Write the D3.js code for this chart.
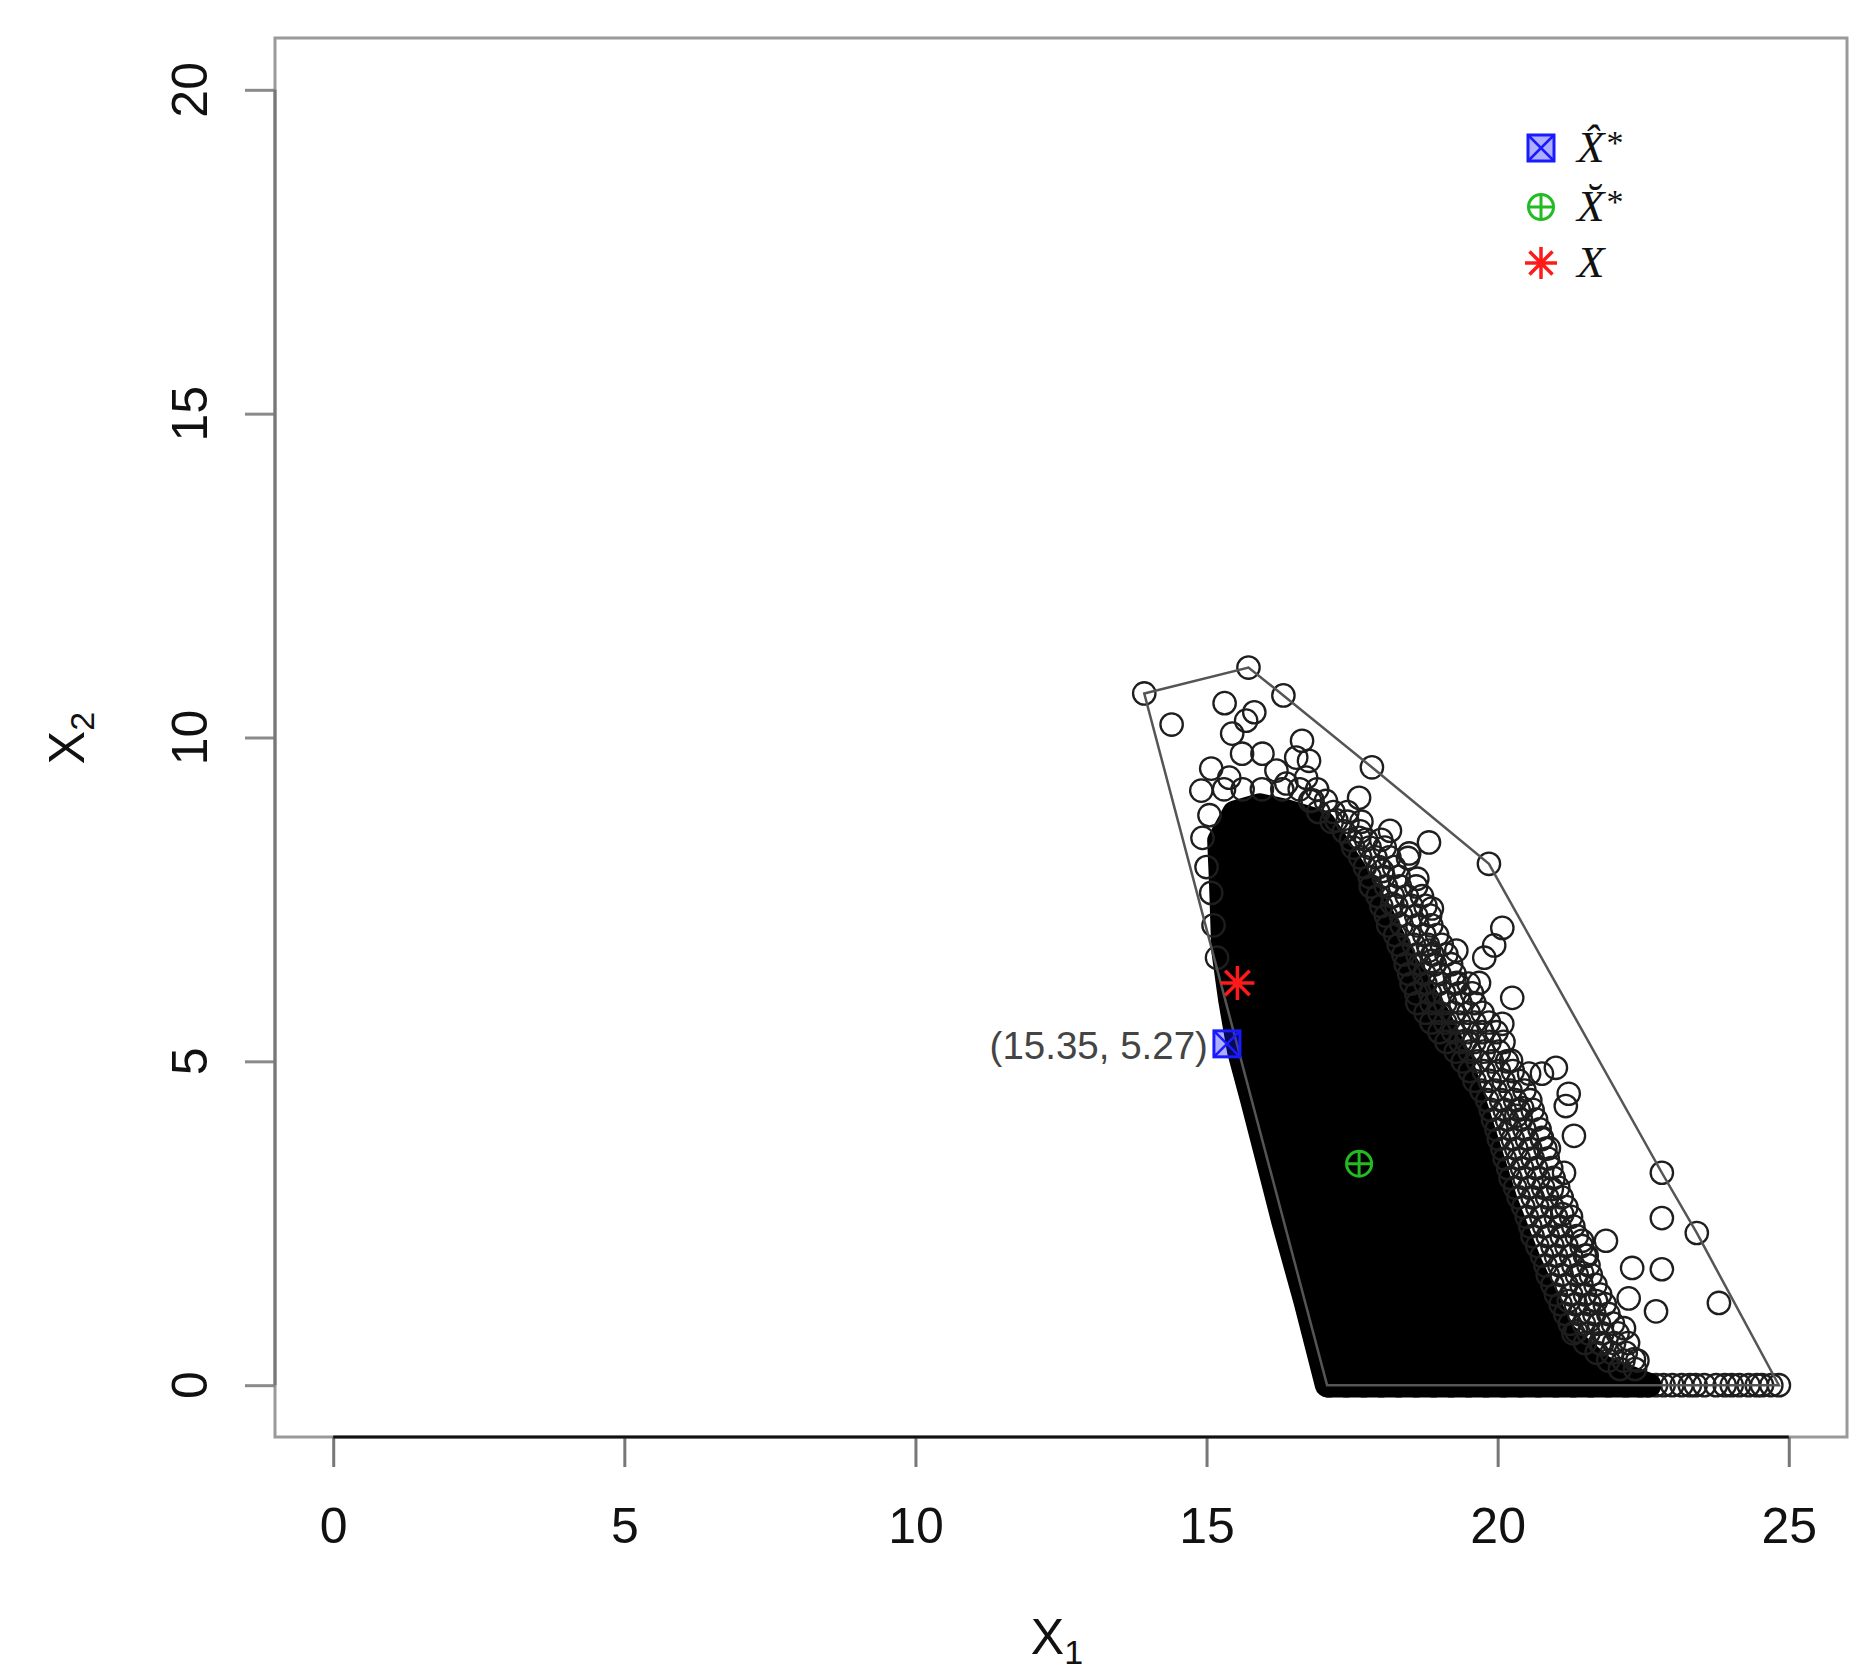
<!DOCTYPE html>
<html><head><meta charset="utf-8">
<script src="https://cdn.jsdelivr.net/npm/d3@7"></script>
<style>body{margin:0;background:#fff} svg{display:block}</style>
</head><body>
<svg id="chart" width="1872" height="1680"></svg>
<script>
// ---------- data ----------
const xTicks = [0, 5, 10, 15, 20, 25];
const yTicks = [0, 5, 10, 15, 20];
const xLabel = "X", xSub = "1";
const yLabel = "X", ySub = "2";

// convex hull of the sample
const hull = [[13.93,10.68],[15.72,11.08],[16.32,10.65],[17.84,9.54],[19.85,8.05],[22.82,3.28],[23.42,2.35],[24.83,0],[17.07,0]];

// outline of the saturated (solid black) part of the cloud, point centres
const denseCore = [[15.22,8.41],[15.48,8.84],[15.91,8.95],[16.33,8.87],[17.0,8.69],[17.55,7.94],[18.0,7.28],[18.4,6.55],[18.96,5.73],[19.36,5.01],[19.65,4.23],[20.14,2.84],[20.54,1.92],[21.1,0.83],[21.8,0.28],[22.6,0],[17.07,0],[16.70,1.30],[16.32,2.53],[16.01,3.62],[15.79,4.39],[15.56,5.16],[15.41,5.94],[15.29,6.71],[15.25,7.79]];

// heavily overlapping points along the edge of the cloud: [X2, [X1 values]]
const fringeRows = [
 [9.2,[15.3,15.62,15.95,16.3,16.6,16.9]],
 [9.02,[16.78,17.05]],
 [8.85,[16.92,17.18,17.42]],
 [8.7,[17.15,17.42,17.66]],
 [8.55,[17.36,17.64]],
 [8.42,[17.48,17.74,18.0]],
 [8.3,[17.52,17.8,18.06]],
 [8.15,[17.64,17.9,18.14]],
 [8.0,[17.72,17.96,18.22]],
 [7.85,[17.8,18.04,18.3]],
 [7.7,[17.82,18.08,18.32,18.6]],
 [7.55,[17.94,18.2,18.44,18.7]],
 [7.4,[18.0,18.26,18.52,18.76]],
 [7.25,[18.08,18.34,18.6,18.84]],
 [7.1,[18.12,18.35,18.62,18.86]],
 [6.95,[18.24,18.48,18.74,18.96]],
 [6.8,[18.3,18.56,18.8,19.04]],
 [6.65,[18.38,18.62,18.88,19.12]],
 [6.5,[18.42,18.66,18.92,19.2]],
 [6.35,[18.48,18.74,19.0,19.26]],
 [6.2,[18.52,18.76,19.0,19.26,19.5]],
 [6.05,[18.6,18.84,19.08,19.34,19.56]],
 [5.9,[18.62,18.86,19.1,19.36,19.6]],
 [5.75,[18.76,19.0,19.24,19.5,19.74]],
 [5.6,[18.86,19.1,19.34,19.6,19.85]],
 [5.45,[19.0,19.24,19.48,19.74,19.98]],
 [5.3,[19.12,19.36,19.6,19.86,20.1]],
 [5.15,[19.28,19.52,19.76,20.02]],
 [5.0,[19.4,19.66,19.9,20.16]],
 [4.85,[19.52,19.76,20.02,20.26]],
 [4.7,[19.6,19.86,20.1,20.36]],
 [4.55,[19.72,19.96,20.22,20.46]],
 [4.4,[19.82,20.06,20.3,20.56]],
 [4.25,[19.88,20.12,20.36,20.6]],
 [4.1,[19.92,20.16,20.4,20.66]],
 [3.95,[19.98,20.22,20.46,20.72]],
 [3.8,[20.02,20.26,20.5,20.76]],
 [3.65,[20.08,20.32,20.56,20.82]],
 [3.5,[20.12,20.36,20.6,20.86]],
 [3.35,[20.18,20.42,20.66,20.92]],
 [3.2,[20.22,20.46,20.7,20.96]],
 [3.05,[20.3,20.54,20.78,21.04]],
 [2.9,[20.36,20.6,20.85,21.1]],
 [2.75,[20.44,20.68,20.94,21.18]],
 [2.6,[20.5,20.75,21.0,21.26]],
 [2.45,[20.56,20.8,21.06,21.3]],
 [2.3,[20.6,20.86,21.1,21.36]],
 [2.15,[20.68,20.94,21.18,21.44]],
 [2.0,[20.76,21.0,21.26,21.5]],
 [1.85,[20.82,21.06,21.3,21.56]],
 [1.7,[20.86,21.1,21.36,21.6]],
 [1.55,[20.94,21.18,21.44,21.68]],
 [1.4,[21.0,21.26,21.5,21.76]],
 [1.25,[21.08,21.34,21.58,21.84]],
 [1.1,[21.16,21.4,21.66,21.9]],
 [0.95,[21.24,21.48,21.74,21.98]],
 [0.8,[21.3,21.56,21.8,22.06]],
 [0.65,[21.5,21.76,22.0,22.24]],
 [0.5,[21.7,21.96,22.2]],
 [0.38,[21.9,22.16,22.4]],
 [0.25,[22.1,22.36]],
 [8.8,[15.05]],[8.0,[15.0]],[7.6,[15.08]],[7.1,[15.12]],[6.6,[15.18]]
];

// clearly separated points
const sparsePoints = [
 [13.93,10.68],[15.72,11.08],[16.32,10.65],[17.84,9.54],[19.85,8.05],[22.82,3.28],[23.42,2.35],
 [14.40,10.20],[15.31,10.53],[15.82,10.39],[15.68,10.26],[15.44,10.06],[15.61,9.75],[15.96,9.75],
 [16.64,9.95],[16.54,9.69],[16.76,9.64],[15.08,9.52],[14.91,9.18],[15.39,9.38],[16.20,9.49],
 [16.71,9.38],[17.62,9.07],[16.37,9.29],[16.82,9.03],[14.93,8.45],[17.62,8.45],[17.23,8.72],
 [18.82,8.38],[18.48,8.21],[18.62,7.82],[18.02,7.94],[18.15,8.56],[18.46,8.14],
 [18.19,7.43],[18.87,7.36],[20.08,7.06],[19.29,6.71],[19.77,6.60],[19.94,6.79],[18.87,6.55],
 [19.30,6.21],[19.68,6.21],[20.25,5.98],[20.08,5.58],[19.46,5.32],[20.23,5.01],[20.54,4.81],
 [21.00,4.90],[20.76,4.81],[21.22,4.50],[20.42,4.28],[18.82,6.71],
 [21.17,4.31],[20.32,4.16],[20.76,3.82],[21.31,3.85],[20.88,3.66],[21.14,3.28],[20.93,3.03],
 [22.82,2.58],[21.11,2.64],[21.45,2.23],[21.86,2.23],[22.31,1.81],[22.82,1.79],[21.45,1.73],
 [23.80,1.27],[21.69,1.30],[22.25,1.34],[22.72,1.14],[22.17,0.88],[21.79,0.63],[22.34,0.40],
 [21.57,0.99],[21.22,1.30],[21.35,0.83],[21.53,2.0]
];

// points lying on X2 = 0
const baselineX = [17.1,17.4,17.7,18.0,18.3,18.6,18.9,19.2,19.5,19.8,20.1,20.4,20.7,21.0,21.3,21.6,21.9,22.2,
 22.45,22.6,22.72,22.85,23.0,23.16,23.3,23.4,23.55,23.75,23.9,24.02,24.15,24.31,24.45,24.54,24.7,24.83];

const xHatStar = [15.35, 5.27];
const xBreveStar = [17.62, 3.42];
const xTrue = [15.53, 6.21];
const annotation = "(15.35, 5.27)";
const legendNames = ["X\u0302", "X\u0306", "X"];
const legendStars = ["*", "*", ""];

// ---------- drawing ----------
const svg = d3.select("#chart");
const L = 275, R = 1847, T = 38, B = 1437;
const x = d3.scaleLinear().domain([-1, 26]).range([L, R]);
const y = d3.scaleLinear().domain([-0.8, 20.8]).range([B, T]);
const sans = "'Liberation Sans', Arial, Helvetica, sans-serif";
const serif = "'Liberation Serif', 'Times New Roman', serif";

const COL_BLUE = "#1a1aff", COL_GREEN = "#22bb22", COL_RED = "#ff1a1a";
const PR = 11.2;

// box
svg.append("rect").attr("x", L).attr("y", T).attr("width", R - L).attr("height", B - T)
  .attr("fill", "none").attr("stroke", "#9a9a9a").attr("stroke-width", 3);

// x axis
const gx = svg.append("g").attr("transform", `translate(0,${B})`)
  .call(d3.axisBottom(x).tickValues(xTicks).tickSize(30).tickSizeOuter(0).tickPadding(40).tickFormat(d3.format("d")));
gx.select(".domain").remove();
gx.selectAll(".tick line").attr("stroke", "#777").attr("stroke-width", 3);
gx.selectAll(".tick text").attr("font-family", sans).attr("font-size", 50).attr("fill", "#111");
gx.append("line").attr("x1", x(xTicks[0])).attr("x2", x(xTicks[xTicks.length-1]))
  .attr("y1", 0).attr("y2", 0).attr("stroke", "#111").attr("stroke-width", 3);

// y axis
const gy = svg.append("g").attr("transform", `translate(${L},0)`)
  .call(d3.axisLeft(y).tickValues(yTicks).tickSize(30).tickSizeOuter(0).tickFormat(""));
gy.select(".domain").remove();
gy.selectAll(".tick line").attr("stroke", "#8a8a8a").attr("stroke-width", 3);
gy.append("line").attr("x1", 0).attr("x2", 0).attr("y1", y(yTicks[0])).attr("y2", y(yTicks[yTicks.length-1]))
  .attr("stroke", "#777").attr("stroke-width", 3);
svg.append("g").selectAll("text").data(yTicks).join("text")
  .attr("transform", d => `translate(207,${y(d)}) rotate(-90)`)
  .attr("text-anchor", "middle").attr("font-family", sans).attr("font-size", 50).attr("fill", "#111")
  .text(d => d);

// axis titles
const xt = svg.append("text").attr("x", 1057).attr("y", 1654).attr("text-anchor", "middle")
  .attr("font-family", sans).attr("font-size", 50).attr("fill", "#111");
xt.append("tspan").text(xLabel);
xt.append("tspan").attr("font-size", 34).attr("dy", 10).text(xSub);
const yt = svg.append("text").attr("transform", "translate(84,738) rotate(-90)").attr("text-anchor", "middle")
  .attr("font-family", sans).attr("font-size", 50).attr("fill", "#111");
yt.append("tspan").text(yLabel);
yt.append("tspan").attr("font-size", 34).attr("dy", 10).text(ySub);

// clip to plot box
svg.append("clipPath").attr("id", "clip").append("rect")
  .attr("x", L).attr("y", T).attr("width", R - L).attr("height", B - T);
const plot = svg.append("g").attr("clip-path", "url(#clip)");

const circleStyle = sel => sel.attr("r", PR).attr("fill", "none").attr("stroke", "#1e1e1e").attr("stroke-width", 2.3);
plot.append("g").selectAll("circle").data(baselineX).join("circle")
  .attr("cx", d => x(d)).attr("cy", y(0)).call(circleStyle);

// dense core (union of overlapping circles)
plot.append("path")
  .attr("d", d3.line().x(d => x(d[0])).y(d => y(d[1])).curve(d3.curveLinearClosed)(denseCore))
  .attr("fill", "#000").attr("stroke", "#000").attr("stroke-width", 2 * PR + 2).attr("stroke-linejoin", "round");

const fringePoints = fringeRows.flatMap(([v, xs]) => xs.map(u => [u, v]));
plot.append("g").selectAll("circle").data(fringePoints).join("circle")
  .attr("cx", d => x(d[0])).attr("cy", d => y(d[1])).call(circleStyle);
plot.append("g").selectAll("circle").data(sparsePoints).join("circle")
  .attr("cx", d => x(d[0])).attr("cy", d => y(d[1])).call(circleStyle);

// hull
plot.append("path")
  .attr("d", d3.line().x(d => x(d[0])).y(d => y(d[1])).curve(d3.curveLinearClosed)(hull))
  .attr("fill", "none").attr("stroke", "#555").attr("stroke-width", 2.5);

// symbol helpers
function squareX(g, cx, cy, s, col) {
  const h = s / 2;
  g.append("rect").attr("x", cx - h).attr("y", cy - h).attr("width", s).attr("height", s)
    .attr("fill", col).attr("fill-opacity", 0.35).attr("stroke", col).attr("stroke-width", 3);
  g.append("path").attr("d", `M${cx-h},${cy-h}L${cx+h},${cy+h}M${cx+h},${cy-h}L${cx-h},${cy+h}`)
    .attr("stroke", col).attr("stroke-width", 2.5);
}
function circlePlus(g, cx, cy, r, col) {
  g.append("circle").attr("cx", cx).attr("cy", cy).attr("r", r).attr("fill", "none")
    .attr("stroke", col).attr("stroke-width", 3);
  g.append("path").attr("d", `M${cx-r},${cy}L${cx+r},${cy}M${cx},${cy-r}L${cx},${cy+r}`)
    .attr("stroke", col).attr("stroke-width", 3);
}
function star(g, cx, cy, r, col) {
  const d = r * 0.72;
  g.append("path").attr("d", `M${cx-r},${cy}L${cx+r},${cy}M${cx},${cy-r}L${cx},${cy+r}M${cx-d},${cy-d}L${cx+d},${cy+d}M${cx+d},${cy-d}L${cx-d},${cy+d}`)
    .attr("stroke", col).attr("stroke-width", 3.5);
}

// special points
const sp = svg.append("g");
squareX(sp, x(xHatStar[0]), y(xHatStar[1]), 26, COL_BLUE);
circlePlus(sp, x(xBreveStar[0]), y(xBreveStar[1]), 12.5, COL_GREEN);
star(sp, x(xTrue[0]), y(xTrue[1]), 17, COL_RED);

svg.append("text").attr("x", x(xHatStar[0]) - 19).attr("y", y(xHatStar[1]) + 15)
  .attr("text-anchor", "end").attr("font-family", sans).attr("font-size", 38.5).attr("fill", "#444")
  .text(annotation);

// legend
const lg = svg.append("g");
const legY = [148, 207, 263];
squareX(lg, 1541, legY[0], 26, COL_BLUE);
circlePlus(lg, 1541, legY[1], 12.5, COL_GREEN);
star(lg, 1541, legY[2], 16, COL_RED);
legY.forEach((ly, i) => {
  const t = lg.append("text").attr("x", 1577).attr("y", ly + 14).attr("font-family", serif)
    .attr("font-size", 45).attr("fill", "#111");
  t.append("tspan").attr("font-style", "italic").text(legendNames[i]);
  if (legendStars[i]) t.append("tspan").attr("font-size", 34).attr("dx", 2).attr("dy", -8).text(legendStars[i]);
});
</script>
</body></html>
